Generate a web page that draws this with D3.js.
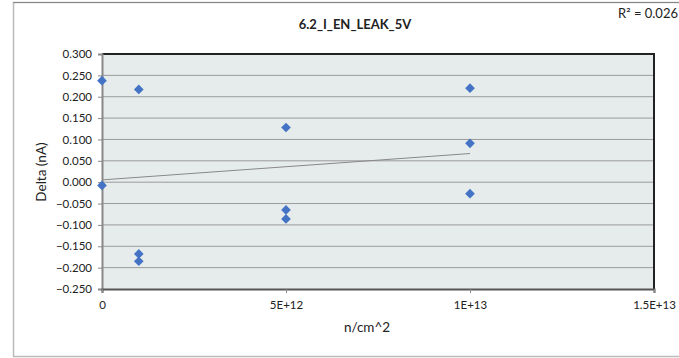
<!DOCTYPE html>
<html><head><meta charset="utf-8">
<script src="https://cdn.jsdelivr.net/npm/d3@7"></script>
<style>body{margin:0;background:#fff}svg{display:block}text{font-family:Lato,"Open Sans",sans-serif}</style>
</head><body>
<svg id="c" width="679" height="358"></svg>
<script>
const title = "6.2_I_EN_LEAK_5V";
const xLabel = "n/cm^2";
const yLabel = "Delta (nA)";
const r2Label = "R² = 0.026";
const fluence = [0, 0, 1e12, 1e12, 1e12, 5e12, 5e12, 5e12, 1e13, 1e13, 1e13];
const delta = [0.2375, -0.0075, 0.217, -0.168, -0.185, 0.128, -0.065, -0.086, 0.220, 0.091, -0.027];
const xTicks = [0, 5e12, 1e13, 1.5e13];
const xTickLabels = ["0", "5E+12", "1E+13", "1.5E+13"];
const yTicks = [-0.25, -0.2, -0.15, -0.1, -0.05, 0, 0.05, 0.1, 0.15, 0.2, 0.25, 0.3];

const svg = d3.select("#c");
const L = 102, R = 654, T = 54, B = 289;
const x = d3.scaleLinear().domain([0, 1.5e13]).range([L, R]);
const y = d3.scaleLinear().domain([-0.25, 0.3]).range([B, T]);

// outer chart border
svg.append("rect").attr("x", 13.5).attr("y", 2.5).attr("width", 700).attr("height", 354)
  .attr("fill", "#fff").attr("stroke", "#bbb").attr("stroke-width", 1.5);
svg.append("line").attr("x1", 13).attr("x2", 679).attr("y1", 2.5).attr("y2", 2.5).attr("stroke", "#888");

// plot area
svg.append("rect").attr("x", L).attr("y", T).attr("width", R - L).attr("height", B - T).attr("fill", "#e6ecec");

// gridlines
svg.append("g").selectAll("line").data(yTicks.filter(v => v > -0.25 && v < 0.3)).join("line")
  .attr("x1", L).attr("x2", R).attr("y1", d => y(d)).attr("y2", d => y(d))
  .attr("stroke", "#9a9a9a").attr("stroke-width", 1);

// borders top/right
svg.append("path").attr("d", `M${L},${T}H${R}V${B}`).attr("fill", "none").attr("stroke", "#222").attr("stroke-width", 2);

// axes
const yAxis = d3.axisLeft(y).tickValues(yTicks).tickFormat(d3.format(".3f")).tickSize(4);
const gy = svg.append("g").attr("transform", `translate(${L},0)`).call(yAxis);
gy.select(".domain").attr("stroke", "#888").attr("stroke-width", 2);
gy.selectAll(".tick line").attr("stroke", "#888");
gy.selectAll("text").attr("font-size", 11.5).attr("fill", "#222").attr("x", -10);

const xAxis = d3.axisBottom(x).tickValues(xTicks).tickFormat((d, i) => xTickLabels[i]).tickSize(4);
const gx = svg.append("g").attr("transform", `translate(0,${B})`).call(xAxis);
gx.select(".domain").attr("stroke", "#555").attr("stroke-width", 2);
gx.selectAll(".tick line").attr("stroke", "#888");
gx.selectAll("text").attr("font-size", 11.5).attr("fill", "#222").attr("y", 12);

// trendline (least squares)
const mx = d3.mean(fluence), my = d3.mean(delta);
const sxy = d3.sum(fluence, (v, i) => (v - mx) * (delta[i] - my));
const sxx = d3.sum(fluence, v => (v - mx) * (v - mx));
const slope = sxy / sxx, icpt = my - slope * mx;
const x0 = d3.min(fluence), x1 = d3.max(fluence);
svg.append("line").attr("x1", x(x0)).attr("x2", x(x1))
  .attr("y1", y(icpt + slope * x0)).attr("y2", y(icpt + slope * x1))
  .attr("stroke", "#888").attr("stroke-width", 1);

// points
svg.append("g").selectAll("path").data(fluence).join("path")
  .attr("d", d3.symbol(d3.symbolDiamond2, 60))
  .attr("transform", (d, i) => `translate(${x(d)},${y(delta[i])})`)
  .attr("fill", "#4472c4");

// texts
svg.append("text").attr("x", 355).attr("y", 29).attr("text-anchor", "middle")
  .attr("font-size", 13).attr("font-weight", "bold").attr("fill", "#222").text(title);
svg.append("text").attr("x", 678).attr("y", 18).attr("text-anchor", "end")
  .attr("font-size", 13).attr("fill", "#222").text(r2Label);
svg.append("text").attr("x", 367).attr("y", 332).attr("text-anchor", "middle")
  .attr("font-size", 13.5).attr("fill", "#222").text(xLabel);
svg.append("text").attr("transform", "translate(46,172) rotate(-90)").attr("text-anchor", "middle")
  .attr("font-size", 13.5).attr("fill", "#222").text(yLabel);
</script>
</body></html>
